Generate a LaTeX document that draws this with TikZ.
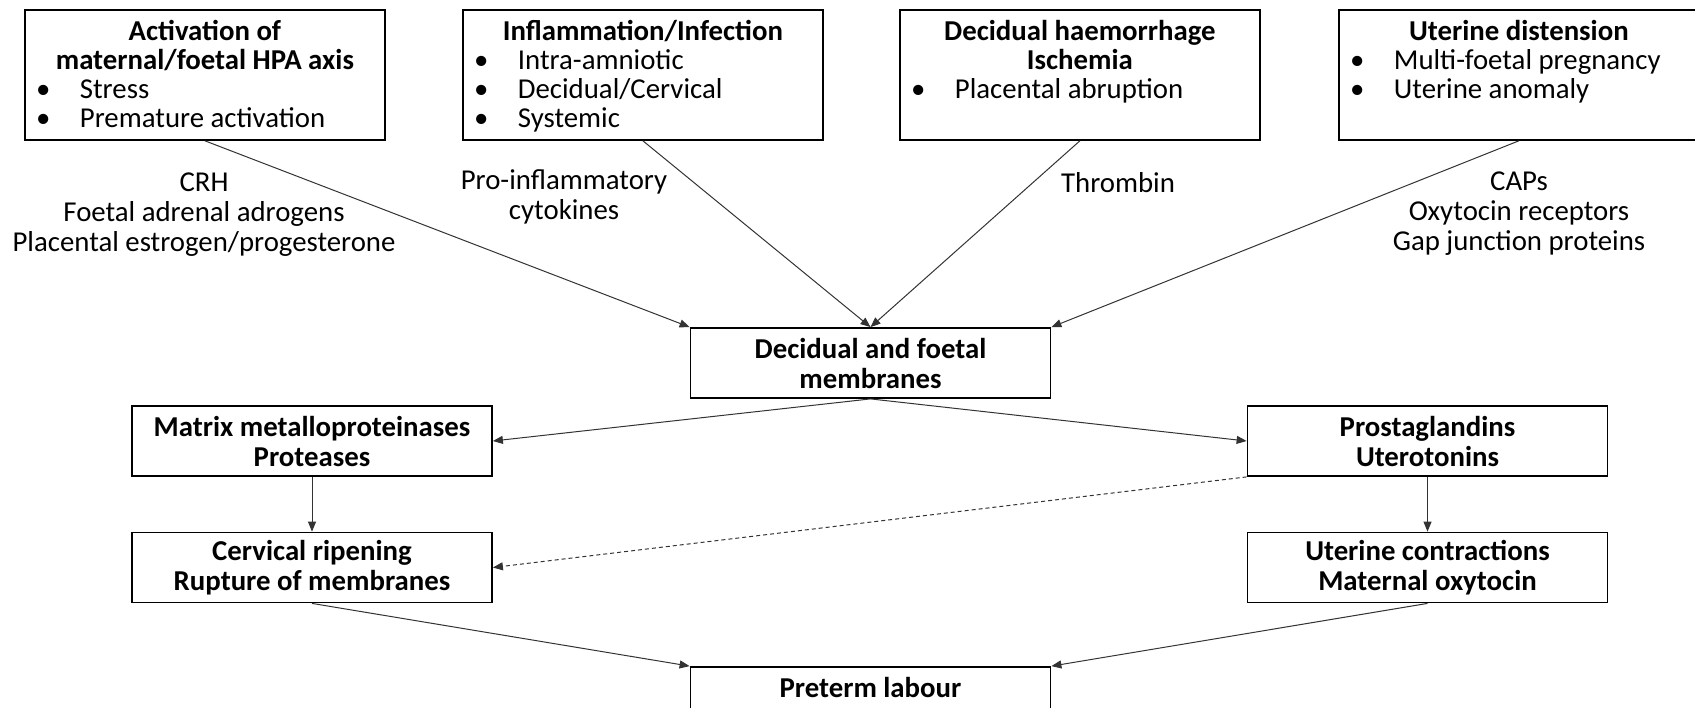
\documentclass[tikz,border=0pt]{standalone}
\usepackage{fontspec}
\setmainfont{Carlito}
\usetikzlibrary{arrows.meta}
\newcommand\bul[1]{\hspace*{5.6pt}\makebox[21.9pt][l]{\textbullet}#1\par}
\newcommand\hd[1]{{\centering\bfseries #1\par}}

\begin{document}
\begin{tikzpicture}[x=0.5pt,y=-0.5pt,
    >={Triangle[length=5pt,width=4pt]},
    font=\fontsize{14.4}{15}\selectfont,
    topbox/.style={draw,line width=0.9pt,inner sep=0pt,anchor=north west},
    flowbox/.style={draw,line width=0.9pt,minimum width=180pt,minimum height=35pt,
      inner sep=0pt,align=center,font=\fontsize{14.4}{15}\selectfont\bfseries},
    lbl/.style={align=center,inner sep=0pt},
    conn/.style={->,line width=0.5pt,draw=black!80}]
        \useasboundingbox (0,0) rectangle (1695,707);

        % causes
        \node[topbox] (hpa) at (24,9) {\begin{minipage}[c][65pt][t]{180pt}\vspace*{5pt}
            \fontsize{14.4}{14.5}\selectfont
            \hd{Activation of\\maternal/foetal HPA axis}
            \bul{Stress}
            \bul{Premature activation}
          \end{minipage}};
        \node[topbox] (inf) at (462,9) {\begin{minipage}[c][65pt][t]{180pt}\vspace*{5pt}
            \fontsize{14.4}{14.5}\selectfont
            \hd{Inflammation/Infection}
            \bul{Intra-amniotic}
            \bul{Decidual/Cervical}
            \bul{Systemic}
          \end{minipage}};
        \node[topbox] (hae) at (899,9) {\begin{minipage}[c][65pt][t]{180pt}\vspace*{5pt}
            \fontsize{14.4}{14.5}\selectfont
            \hd{Decidual haemorrhage\\Ischemia}
            \bul{Placental abruption}
          \end{minipage}};
        \node[topbox] (dis) at (1338,9) {\begin{minipage}[c][65pt][t]{180pt}\vspace*{5pt}
            \fontsize{14.4}{14.5}\selectfont
            \hd{Uterine distension}
            \bul{Multi-foetal pregnancy}
            \bul{Uterine anomaly}
          \end{minipage}};

        % mediators
        \node[lbl] (hpal) at (204,215) {CRH\\Foetal adrenal adrogens\\Placental estrogen/progesterone};
        \node[lbl] (infl) at (564,197) {Pro-inflammatory\\cytokines};
        \node[lbl] (hael) at (1118,183) {Thrombin};
        \node[lbl] (disl) at (1519,214) {CAPs\\Oxytocin receptors\\Gap junction proteins};

        % pathway
        \node[flowbox] (mem) at (870.5,363) {Decidual and foetal\\membranes};
        \node[flowbox] (mmp) at (312,441) {Matrix metalloproteinases\\Proteases};
        \node[flowbox] (pg) at (1427.5,441) {Prostaglandins\\Uterotonins};
        \node[flowbox] (crv) at (312,567.5) {Cervical ripening\\Rupture of membranes};
        \node[flowbox] (utc) at (1427.5,567.5) {Uterine contractions\\Maternal oxytocin};
        \node[flowbox] (ptl) at (870.5,702) {Preterm labour\\\mbox{}};

        \draw[conn] (hpa.south) -- (mem.north west);
        \draw[conn] (inf.south) -- (mem.north);
        \draw[conn] (hae.south) -- (mem.north);
        \draw[conn] (dis.south) -- (mem.north east);

        \draw[conn] (mem.south) -- (mmp.east);
        \draw[conn] (mem.south) -- (pg.west);
        \draw[conn] (mmp) -- (crv);
        \draw[conn] (pg) -- (utc);
        \draw[conn,dash pattern=on 2pt off 1.5pt] (pg.south west) -- (crv.east);

        \draw[conn] (crv.south) -- (ptl.north west);
        \draw[conn] (utc.south) -- (ptl.north east);
      \end{tikzpicture}
\end{document}
